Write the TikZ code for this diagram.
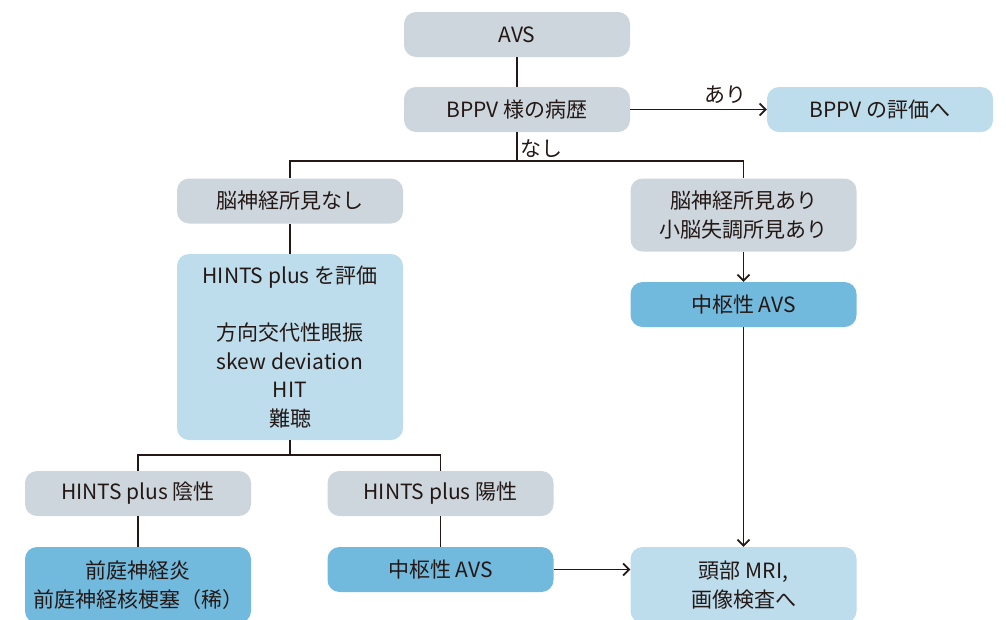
\documentclass[tikz,border=0pt]{standalone}
\usepackage{fontspec}
\setmainfont{Noto Sans CJK JP}
\usetikzlibrary{arrows.meta}
\definecolor{boxgray}{HTML}{CDD6DD}
\definecolor{boxlight}{HTML}{BDDCEC}
\definecolor{boxmid}{HTML}{72BADD}
\definecolor{ink}{HTML}{231815}
\tikzset{
  card/.style={rounded corners=12pt, minimum width=226pt, minimum height=45pt,
    inner sep=0pt, align=center, text=ink, font=\fontsize{21}{28.5}\selectfont},
  graycard/.style={card, fill=boxgray},
  lightcard/.style={card, fill=boxlight},
  midcard/.style={card, fill=boxmid},
  link/.style={draw=ink, line width=1.8pt},
  flow/.style={link, -{Straight Barb[length=6pt,width=12pt,line width=1.8pt]}},
  tag/.style={text=ink, font=\fontsize{21}{24}\selectfont, inner sep=0pt}
}
\begin{document}
\begin{tikzpicture}[x=1pt,y=-1pt]
\useasboundingbox (0,0) rectangle (1006,619);

% boxes
\node[graycard]  (avs)   at (517,34.5)  {AVS};
\node[graycard]  (bppv)  at (517,109.5) {BPPV 様の病歴};
\node[lightcard] (bppve) at (880,109.5) {BPPV の評価へ};
\node[graycard]  (cnno)  at (290,201)   {脳神経所見なし};
\node[graycard, minimum height=73pt] (cnyes) at (743.5,215) {脳神経所見あり\\小脳失調所見あり};
\node[lightcard, minimum height=186pt] (hints) at (290,347)
  {HINTS plus を評価\\[28.5pt]方向交代性眼振\\skew deviation\\HIT\\難聴};
\node[midcard]   (centR) at (743.5,304.5) {中枢性 AVS};
\node[graycard]  (neg)   at (138,493.5) {HINTS plus 陰性};
\node[graycard]  (pos)   at (440.5,493.5) {HINTS plus 陽性};
\node[midcard, minimum height=76pt] (vn) at (138,585) {前庭神経炎\\前庭神経核梗塞（稀）};
\node[midcard]   (centL) at (440.5,569.5) {中枢性 AVS};
\node[lightcard, minimum height=76pt] (mri) at (743.5,585) {頭部 MRI,\\画像検査へ};

% junction points
\coordinate (j1) at (517,161);
\coordinate (j2) at (290,455);

% connectors
\draw[link] (avs) -- (bppv);
\draw[flow] (bppv) -- (bppve);
\node[tag] (ari) at (725,95) {あり};
\draw[link] (bppv) -- (j1);
\draw[link] (cnno.north) |- (j1) -| (cnyes.north);
\node[tag] (nashi) at (541,149) {なし};
\draw[link] (cnno) -- (hints);
\draw[flow] (cnyes) -- (centR);
\draw[flow] (centR) -- (mri);
\draw[link] (hints) -- (j2);
\draw[link] (neg.north) |- (j2) -| (pos.north);
\draw[link] (neg) -- (vn);
\draw[link] (pos) -- (centL);
\draw[flow] (centL) -- (mri.west |- centL);
\end{tikzpicture}
\end{document}
